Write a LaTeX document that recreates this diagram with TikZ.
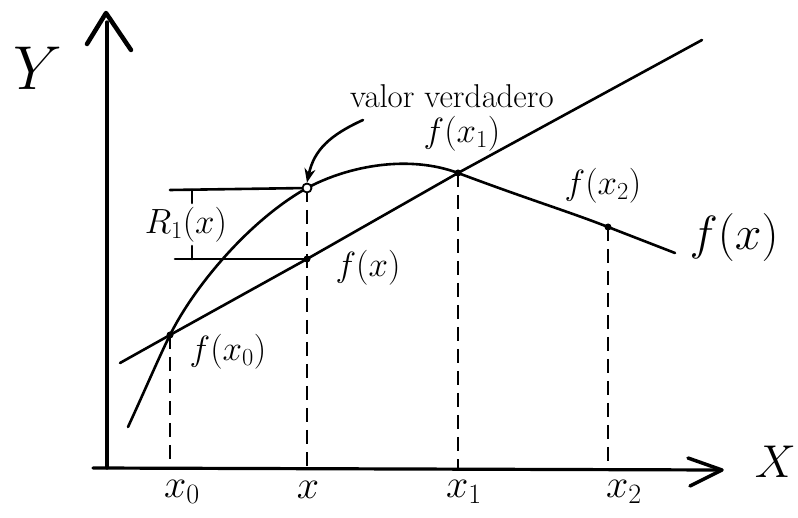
\RequirePackage{fix-cm}
\documentclass[tikz,border=0pt]{standalone}
\usetikzlibrary{arrows.meta}
\begin{document}
\begin{tikzpicture}[x=1pt,y=-1pt,
  ink/.style={line width=2.6pt,line cap=round,line join=round},
  axis/.style={line width=3.2pt,line cap=round},
  guide/.style={line width=2.6pt,dash pattern=on 14pt off 8pt},
  lab/.style={font=\fontsize{35}{40}\selectfont},
  dot/.style={circle,fill=black,inner sep=0pt,minimum size=7pt},
  odot/.style={circle,draw=black,line width=1.8pt,fill=white,inner sep=0pt,minimum size=9pt}]
\useasboundingbox (0,0) rectangle (798,518);
% coordinates
\coordinate (O) at (107,468);
\coordinate (Ytop) at (107,22);
\coordinate (Xleft) at (93,468);
\coordinate (Xright) at (718,470);
\coordinate (P0) at (170,335);
\coordinate (Pt) at (307,188);
\coordinate (Pl) at (307,259);
\coordinate (P1) at (458,173);
\coordinate (P2) at (608,227);
\coordinate (F0) at (170,468);
\coordinate (Fx) at (307,468);
\coordinate (F1) at (458,468);
\coordinate (F2) at (608,468);
\coordinate (L0) at (120,363);
\coordinate (L1) at (702,40);
\coordinate (C0) at (128,427);
\coordinate (C1) at (675,253);
% axes
\draw[axis] (O) -- (Ytop);
\draw[axis] (Xleft) -- (Xright);
\draw[line width=4.5pt,line cap=round,line join=round] (87,44) -- (106,13) -- (131,50);
\draw[line width=3.5pt,line cap=round,line join=round] (688,458) -- (722,470) -- (690,486);
\node[font=\fontsize{62}{66}\selectfont] (Ylab) at (38,68) {$Y$};
\node[font=\fontsize{46}{50}\selectfont,anchor=east,inner sep=1pt] (Xlab) at (797,462) {$X$};
% guides
\draw[guide] (P0) -- (F0);
\draw[guide] (Pt) -- (Fx);
\draw[guide] (P1) -- (F1);
\draw[guide] (P2) -- (F2);
% true function
\draw[ink] (C0) .. controls (145,390) and (160,355) .. (P0)
  .. controls (195,285) and (250,220) .. (Pt)
  .. controls (350,165) and (410,155) .. (P1)
  .. controls (530,200) and (570,212) .. (P2) -- (C1);
% linear interpolation
\draw[ink] (L0) -- (P0) -- (Pl) -- (P1) -- (L1);
% error bracket
\draw[ink] (170,190) -- (Pt);
\draw[ink] (175,259) -- (Pl);
\draw[ink] (192,190) -- (192,203);
\draw[ink] (192,246) -- (192,259);
\node[lab] (R) at (186,225) {$R_1(x)$};
% points
\node[dot] at (P0) {};
\node[dot] at (Pl) {};
\node[dot] at (P1) {};
\node[dot] at (P2) {};
\node[odot] (T) at (Pt) {};
% labels
\node[lab] (lf0) at (228,352) {$f(x_0)$};
\node[lab] (lfx) at (368,268) {$f(x)$};
\node[lab] (lf1) at (462,134) {$f(x_1)$};
\node[lab] (lf2) at (603,186) {$f(x_2)$};
\node[font=\fontsize{48}{52}\selectfont] (lfc) at (734,238) {$f(x)$};
\node[font=\fontsize{40}{44}\selectfont] (lx0) at (182,492) {$x_0$};
\node[font=\fontsize{40}{44}\selectfont] (lx) at (308,490) {$x$};
\node[font=\fontsize{40}{44}\selectfont] (lx1) at (464,492) {$x_1$};
\node[font=\fontsize{40}{44}\selectfont] (lx2) at (624,492) {$x_2$};
\node[font=\fontsize{33}{38}\selectfont] (vv) at (452,96) {$\mathrm{valor\ verdadero}$};
\draw[ink,-{Stealth[length=14pt,width=11pt]}] (363,120) .. controls (330,135) and (314,150) .. (T.north);
\end{tikzpicture}
\end{document}
